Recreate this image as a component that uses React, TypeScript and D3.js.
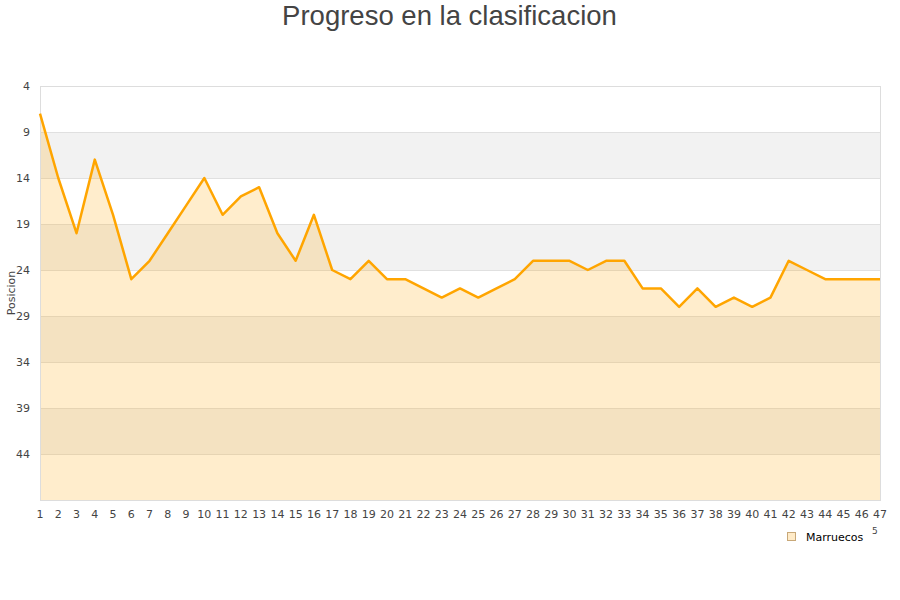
import React from "react";
import * as d3 from "d3";

const jornadas: number[] = Array.from({ length: 47 }, (_, i) => i + 1);
const posiciones: number[] = [
  7, 14, 20, 12, 18, 25, 23, 20, 17, 14,
  18, 16, 15, 20, 23, 18, 24, 25, 23, 25,
  25, 26, 27, 26, 27, 26, 25, 23, 23, 23,
  24, 23, 23, 26, 26, 28, 26, 28, 27, 28,
  27, 23, 24, 25, 25, 25, 25,
];
const yTicks: number[] = [4, 9, 14, 19, 24, 29, 34, 39, 44];
const seriesName = "Marruecos";
const title = "Progreso en la clasificacion";
const yTitle = "Posicion";

const W = 900;
const H = 600;
const left = 40;
const right = 880;
const top = 86;
const bottom = 500;

export default function App() {
  const x = d3.scaleLinear().domain([1, 47]).range([left, right]);
  const y = d3.scaleLinear().domain([4, 49]).range([top, bottom]);
  const pts: [number, number][] = jornadas.map((j, i) => [j, posiciones[i]]);
  const line = d3
    .line<[number, number]>()
    .x((d) => x(d[0]))
    .y((d) => y(d[1]));
  const area = d3
    .area<[number, number]>()
    .x((d) => x(d[0]))
    .y0(y(49))
    .y1((d) => y(d[1]));
  const bands = [9, 19, 29, 39];
  const font = "'DejaVu Sans', sans-serif";
  return (
    <svg
      width={W}
      height={H}
      style={{ position: "absolute", left: 0, top: 0, background: "#fff" }}
    >
      <text
        x={449.5}
        y={25}
        textAnchor="middle"
        fontFamily="'Liberation Sans', Arial, sans-serif"
        fontSize={27.5}
        fill="#444"
      >
        {title}
      </text>
      {bands.map((b) => (
        <rect
          key={b}
          x={left}
          y={y(b)}
          width={right - left}
          height={y(b + 5) - y(b)}
          fill="#f2f2f2"
        />
      ))}
      {yTicks.map((t) => (
        <line
          key={t}
          x1={left}
          x2={right}
          y1={y(t)}
          y2={y(t)}
          stroke="#e0e0e0"
          strokeWidth={1}
          shapeRendering="crispEdges"
        />
      ))}
      <path d={area(pts) || ""} fill="rgba(255,165,0,0.2)" />
      <rect
        x={left}
        y={top}
        width={right - left}
        height={bottom - top}
        fill="none"
        stroke="#ddd"
        strokeWidth={1}
        shapeRendering="crispEdges"
      />
      <path
        d={line(pts) || ""}
        fill="none"
        stroke="#ffa500"
        strokeWidth={2.5}
        strokeLinejoin="round"
      />
      {yTicks.map((t) => (
        <text
          key={t}
          x={30}
          y={y(t) + 4}
          textAnchor="end"
          fontFamily={font}
          fontSize={11}
          fill="#444"
        >
          {t}
        </text>
      ))}
      {jornadas.map((j) => (
        <text
          key={j}
          x={x(j)}
          y={518}
          textAnchor="middle"
          fontFamily={font}
          fontSize={11}
          fill="#444"
        >
          {j}
        </text>
      ))}
      <text
        transform={`translate(15,${(top + bottom) / 2}) rotate(-90)`}
        textAnchor="middle"
        fontFamily={font}
        fontSize={11}
        fill="#444"
      >
        {yTitle}
      </text>
      <text x={872} y={534} fontFamily={font} fontSize={9} fill="#444">
        5
      </text>
      <rect
        x={787.5}
        y={532.5}
        width={8}
        height={8}
        fill="#ffebc8"
        stroke="#c8a878"
        strokeWidth={1}
      />
      <text x={806} y={541} fontFamily={font} fontSize={11} fill="#000">
        {seriesName}
      </text>
    </svg>
  );
}
